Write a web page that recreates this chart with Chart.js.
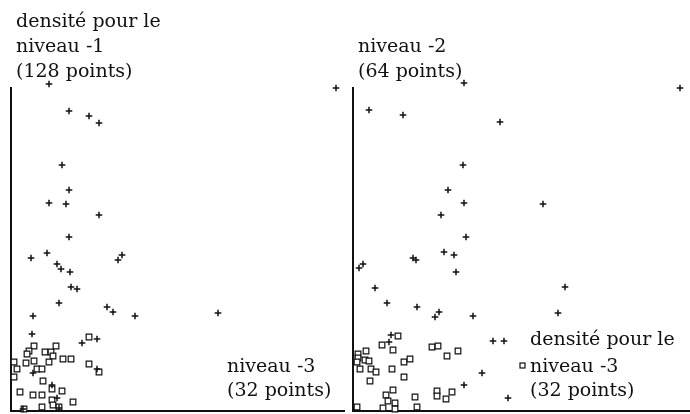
<!DOCTYPE html>
<html>
<head>
<meta charset="utf-8">
<script src="https://cdn.jsdelivr.net/npm/chart.js@4/dist/chart.umd.min.js"></script>
<style>
  body { margin: 0; background: #fff; }
  #wrap { position: relative; width: 690px; height: 414px; }
  .pane { position: absolute; top: 0; width: 345px; height: 414px; }
</style>
</head>
<body>
<div id="wrap">
  <div class="pane" style="left:0"><canvas id="left"></canvas></div>
  <div class="pane" style="left:345px"><canvas id="right"></canvas></div>
</div>
<script>
// level -1 (128 points) : crosses, left panel
var level1X = [38, 325, 58, 78, 88, 51, 58, 38, 55, 88, 58, 36, 20, 111, 107, 46, 50, 59, 60, 66, 48, 96, 102, 22, 124, 207, 21, 71, 86, 86, 22, 41, 46, 48, 12];
var level1Y = [327, 323, 300, 295, 288, 246, 221, 208, 207, 196, 174, 158, 153, 156, 151, 147, 142, 139, 124, 122, 108, 104, 99, 95, 95, 98, 77, 68, 72, 42, 38, 26, 13, 3, 2];

// level -2 (64 points) : crosses, right panel
var level2X = [111, 327, 16, 50, 147, 110, 95, 111, 190, 88, 113, 91, 101, 60, 63, 10, 6, 103, 22, 212, 34, 64, 86, 82, 120, 205, 140, 151, 38, 36, 129, 111, 155];
var level2Y = [328, 323, 301, 296, 289, 246, 221, 208, 207, 196, 174, 159, 156, 153, 151, 147, 143, 139, 123, 124, 108, 104, 99, 94, 95, 98, 70, 70, 76, 69, 38, 26, 13];

// level -3 (32 points) : squares, in both panels
var level3aX = [78, 23, 18, 16, 34, 40, 45, 42, 38, 52, 60, 3, 15, 23, 6, 3, 26, 31, 78, 88, 32, 41, 51, 9, 22, 31, 62, 41, 31, 42, 48, 13];
var level3aY = [74, 65, 60, 57, 59, 59, 65, 55, 49, 52, 52, 49, 48, 50, 42, 34, 42, 42, 47, 39, 30, 22, 20, 19, 16, 16, 9, 11, 4, 6, 4, 2];
var level3bX = [45, 29, 40, 79, 85, 105, 94, 13, 5, 5, 4, 12, 16, 7, 18, 23, 39, 51, 57, 17, 51, 40, 33, 35, 42, 30, 42, 62, 64, 84, 84, 99, 93, 4];
var level3bY = [75, 66, 61, 64, 65, 60, 55, 60, 57, 53, 49, 51, 50, 42, 42, 39, 42, 49, 52, 30, 34, 21, 16, 10, 8, 3, 2, 14, 4, 20, 15, 19, 12, 4];

var leftLabels = [
  ['densité pour le', 16, 27],
  ['niveau -1', 16, 52],
  ['(128 points)', 16, 77],
  ['niveau -3', 227, 372],
  ['(32 points)', 227, 396]
];
var rightLabels = [
  ['niveau -2', 13, 52],
  ['(64 points)', 13, 77],
  ['densité pour le', 185, 345],
  ['niveau -3', 185, 372],
  ['(32 points)', 185, 396]
];

function toPoints(xs, ys) {
  var pts = [];
  for (var i = 0; i < xs.length; i++) {
    pts.push({x: xs[i], y: ys[i]});
  }
  return pts;
}

function textPlugin(labels, legendBox) {
  return {
    id: 'texts',
    afterDraw: function(chart) {
      var ctx = chart.ctx;
      ctx.save();
      ctx.fillStyle = '#111';
      ctx.font = '19px "DejaVu Serif"';
      ctx.textAlign = 'left';
      ctx.textBaseline = 'alphabetic';
      labels.forEach(function(l) {
        ctx.fillText(l[0], l[1], l[2]);
      });
      if (legendBox) {
        ctx.strokeStyle = '#111';
        ctx.lineWidth = 1.2;
        ctx.strokeRect(legendBox[0], legendBox[1], 5, 5);
      }
      ctx.restore();
    }
  };
}

function createChart(id, crosses, squares, xMax, padLeft, labels, legendBox) {
  var ctx = document.getElementById(id).getContext('2d');
  return new Chart(ctx, {
    type: 'scatter',
    data: {
      datasets: [
        {
          data: crosses,
          pointStyle: 'cross',
          radius: 3.3,
          borderWidth: 1.5,
          borderColor: '#111',
          clip: false
        },
        {
          data: squares,
          pointStyle: 'rect',
          radius: 4,
          borderWidth: 1.2,
          borderColor: '#111',
          backgroundColor: '#fff',
          clip: false
        }
      ]
    },
    options: {
      responsive: true,
      maintainAspectRatio: false,
      animation: false,
      layout: {
        autoPadding: false,
        padding: {left: padLeft, top: 88, right: 0, bottom: 3}
      },
      plugins: {
        legend: {display: false},
        tooltip: {enabled: false}
      },
      scales: {
        x: {
          type: 'linear',
          min: 0,
          max: xMax,
          grid: {display: false, drawTicks: false},
          ticks: {display: false},
          border: {display: true, color: '#111', width: 2}
        },
        y: {
          type: 'linear',
          min: 0,
          max: 323,
          grid: {display: false, drawTicks: false},
          ticks: {display: false},
          border: {display: true, color: '#111', width: 2}
        }
      }
    },
    plugins: [textPlugin(labels, legendBox)]
  });
}

createChart('left', toPoints(level1X, level1Y), toPoints(level3aX, level3aY), 334, 11, leftLabels, null);
createChart('right', toPoints(level2X, level2Y), toPoints(level3bX, level3bY), 337, 8, rightLabels, [175, 363]);
</script>
</body>
</html>
